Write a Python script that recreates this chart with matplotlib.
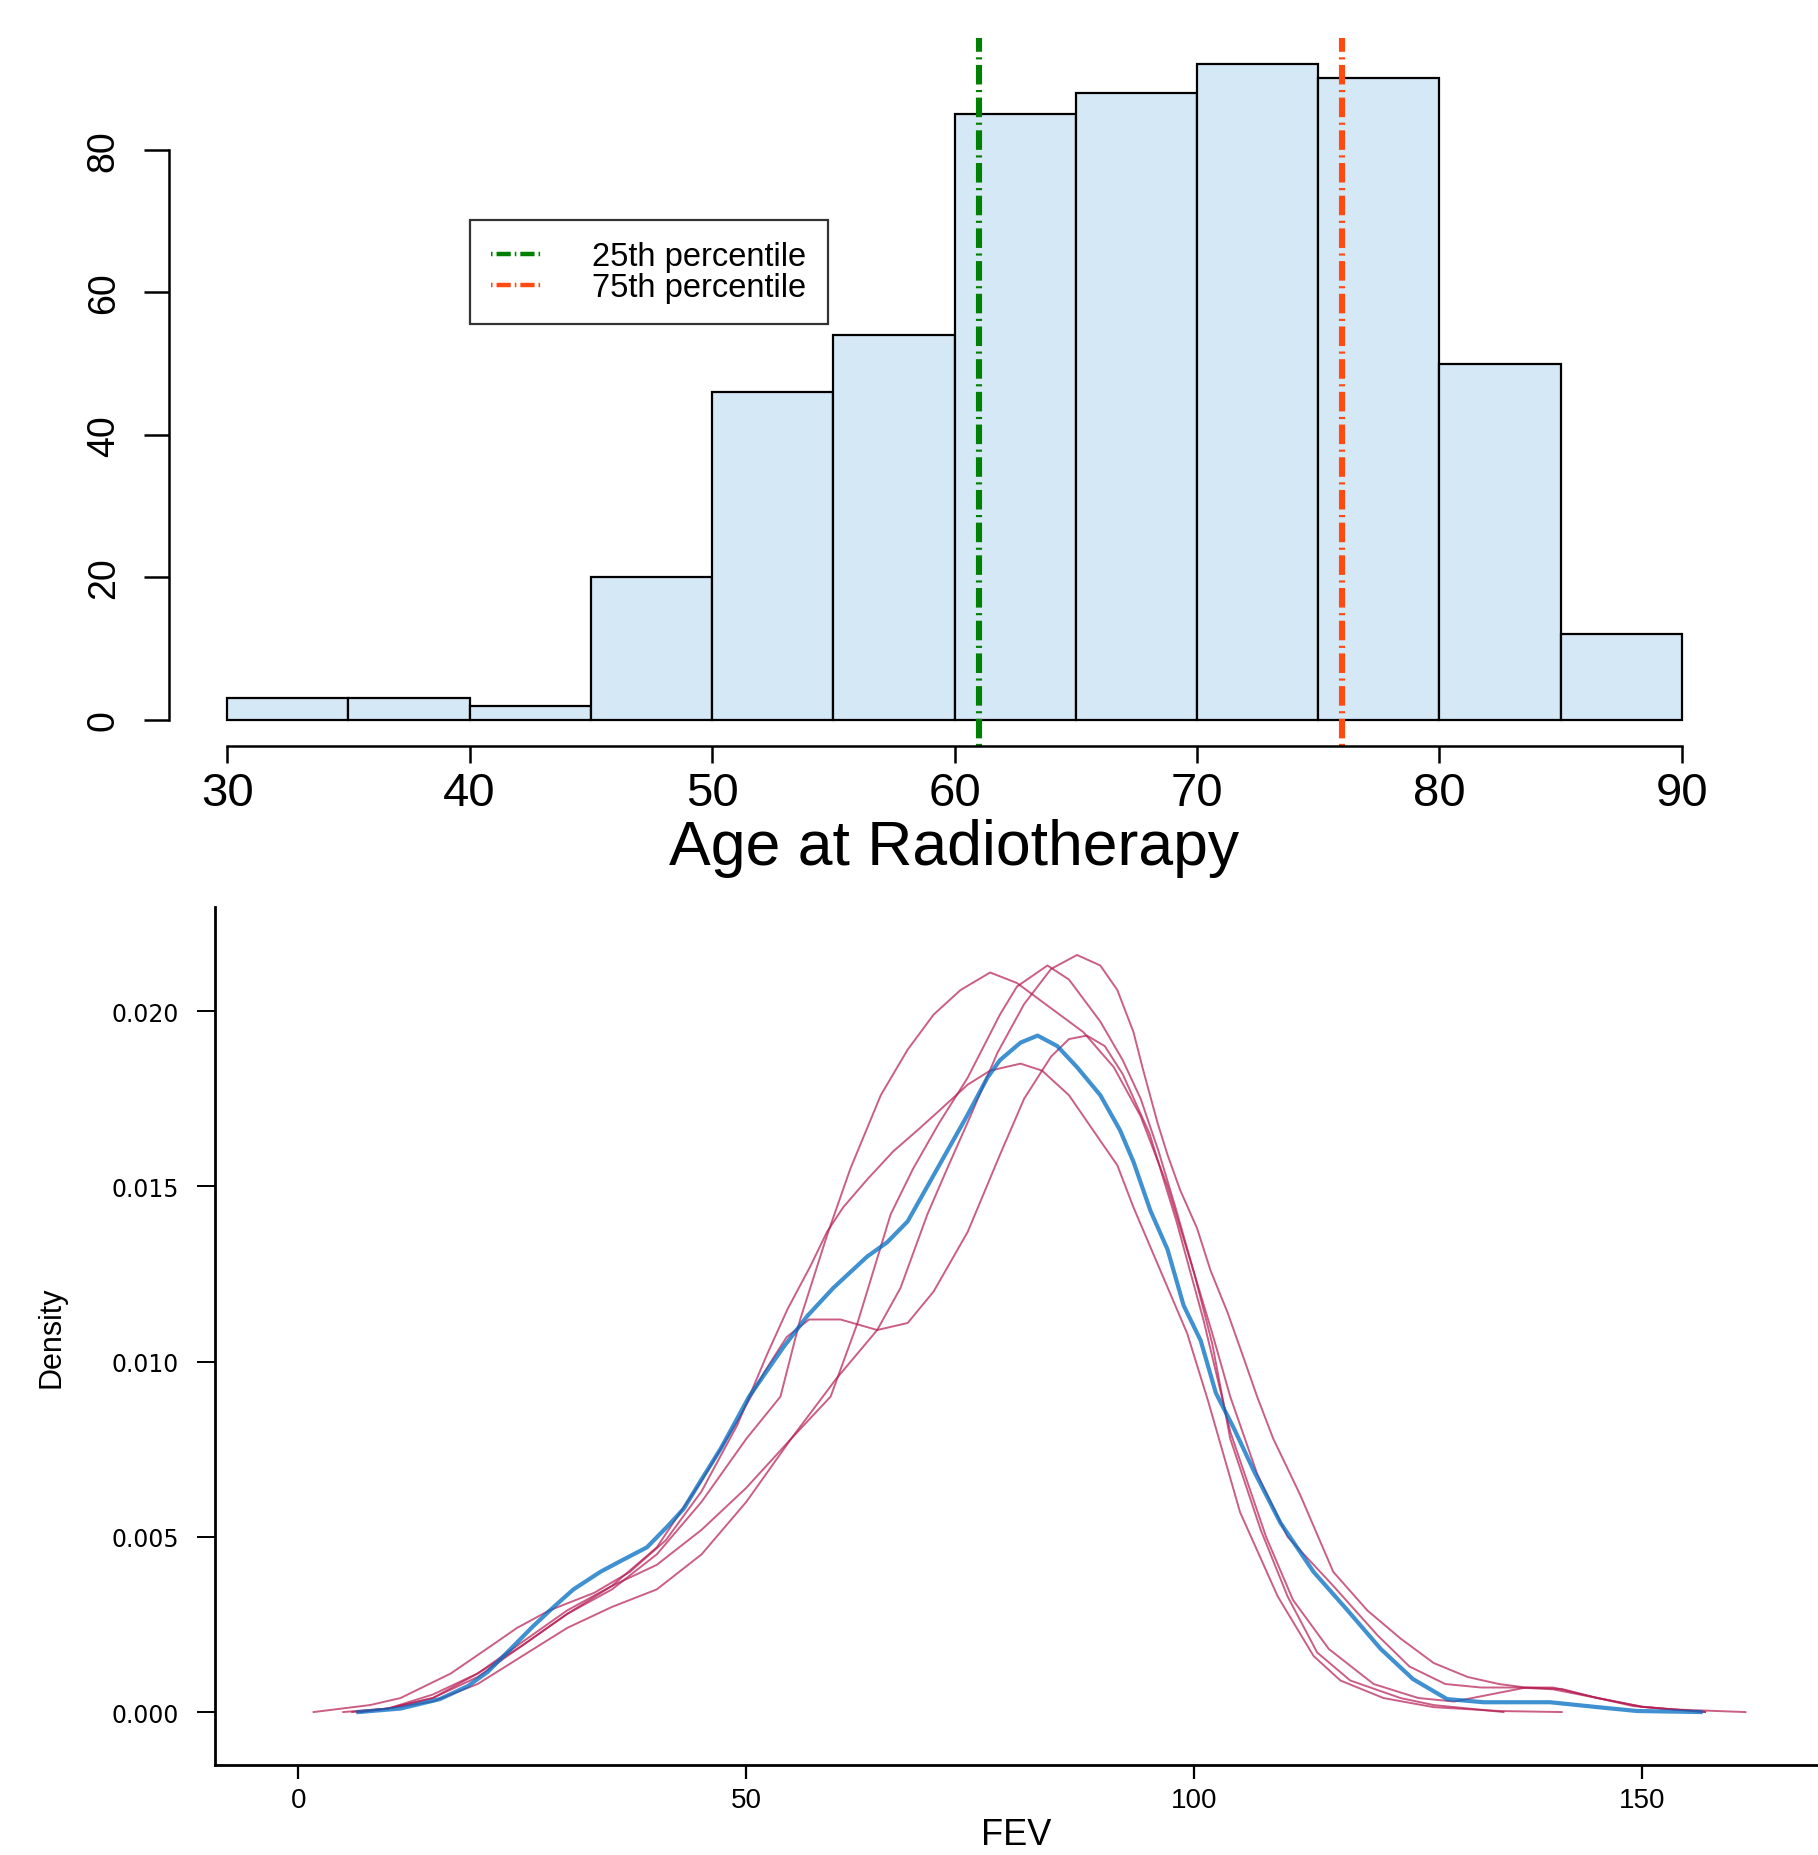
import numpy as np
import matplotlib
matplotlib.use("Agg")
import matplotlib.pyplot as plt
from matplotlib.lines import Line2D
from matplotlib import font_manager

# ---- histogram data (age at radiotherapy) ----
bin_edges = [30, 35, 40, 45, 50, 55, 60, 65, 70, 75, 80, 85, 90]
counts = [3, 3, 2, 20, 46, 54, 85, 88, 92, 90, 50, 12]
p25 = 61
p75 = 76
age_ticks = [30, 40, 50, 60, 70, 80, 90]
count_ticks = [0, 20, 40, 60, 80]

# ---- density curves (FEV): observed (blue) and imputed (red) ----
obs_x = [6.7, 11.4, 15.8, 18.9, 21.1, 23.3, 26.2, 28.5, 30.7, 33.7,
         35.9, 38.9, 41.2, 43.0, 44.9, 47.1, 48.6, 50.3, 54.1, 56.8,
         59.7, 63.5, 65.7, 68.0, 70.2, 72.4, 74.6, 76.9, 78.3, 80.6,
         82.5, 84.7, 86.9, 89.5, 91.7, 93.2, 95.1, 97.0, 98.8, 100.7,
         102.4, 104.4, 106.6, 109.6, 113.3, 117.1, 120.8, 124.4, 128.2, 132.3,
         139.7, 145.0, 149.4, 156.5]
obs_y = [0, .0001, .00037, .00074, .00114, .0017, .00245, .0030, .0035, .0040,
         .0043, .0047, .0053, .0058, .0066, .0075, .0082, .0090, .0104, .0113,
         .0121, .0130, .0134, .0140, .0150, .0160, .0170, .0181, .0186, .0191,
         .0193, .0190, .0184, .0176, .0166, .0157, .0143, .0132, .0116, .0106,
         .0091, .0081, .0069, .0054, .0040, .0029, .0018, .00094, .00037, .00028,
         .00028, .00014, .00003, 0]

imp1_x = [6.0, 10, 15, 20, 25, 30, 35, 40, 45, 50,
          53.8, 56.0, 59.0, 61.6, 65.0, 68.0, 70.9, 73.9, 77.2, 80.2,
          83.9, 87.6, 91.0, 94.0, 97.0, 100.0, 102.0, 104.0, 107.4, 110.4,
          113.7, 117.4, 123.0, 126.7, 134.5]
imp1_y = [0, .0001, .0004, .0010, .0019, .0028, .0035, .0045, .0060, .0078,
          .0090, .0112, .0136, .0155, .0176, .0189, .0199, .0206, .0211, .0208,
          .0201, .0194, .0184, .0170, .0150, .0125, .0105, .0078, .0052, .0033,
          .0017, .0009, .0004, .0002, 0]

imp2_x = [6.5, 10, 15, 20, 25, 30, 35, 40, 45, 50,
          55, 59.4, 62.4, 66.1, 68.6, 71.5, 74.7, 76.9, 78.3, 80.2,
          83.6, 86, 89.5, 92, 94, 96, 98, 100, 102, 104,
          107, 110.4, 115.5, 120.4, 124, 128, 132, 136, 140, 145,
          150, 157]
imp2_y = [0, .0001, .0004, .0011, .0020, .0029, .0036, .0042, .0052, .0064,
          .0078, .0090, .0111, .0142, .0155, .0168, .0181, .0192, .0199, .0207,
          .0213, .0209, .0197, .0186, .0175, .0160, .0143, .0125, .0108, .0090,
          .0068, .0050, .0036, .0022, .0013, .0008, .0007, .0007, .00065, .0004,
          .00015, 0]

imp3_x = [7, 10, 15, 20, 25, 30, 35, 40, 45, 50,
          55, 60, 64.6, 67.2, 70.2, 72.4, 75, 78, 81, 84,
          86.9, 89.5, 91.4, 93.2, 94.3, 95.9, 97, 98.4, 100.3, 101.8,
          103.7, 105.5, 107, 108.8, 111.8, 115.5, 119.3, 123, 126.7, 130.5,
          134, 137, 141, 144.5, 149, 153, 161.5]
imp3_y = [0, .0001, .0003, .0008, .0016, .0024, .0030, .0035, .0045, .0060,
          .0078, .0095, .0109, .0121, .0142, .0155, .0170, .0188, .0202, .0212,
          .0216, .0213, .0206, .0194, .0183, .0168, .0159, .0149, .0138, .0126,
          .0114, .0101, .0090, .0078, .0062, .0040, .0029, .0021, .0014, .0010,
          .0008, .0007, .00066, .00043, .00017, .00008, 0]

imp4_x = [5, 10, 15, 20, 25, 30, 35, 40, 45, 49,
          52, 54.5, 57, 60.5, 64.6, 68, 70.9, 74.7, 78.3, 81,
          84, 86, 88, 90, 92, 95, 98, 101, 104, 106,
          108, 111, 115, 120, 125, 129, 133, 137, 140, 145,
          150, 157]
imp4_y = [0, .0001, .0005, .0011, .0019, .0028, .0036, .0047, .0066, .0083,
          .0097, .0107, .0112, .0112, .0109, .0111, .0120, .0137, .0159, .0175,
          .0187, .0192, .0193, .0190, .0182, .0165, .0140, .0112, .0080, .0065,
          .0050, .0032, .0018, .0008, .0004, .0003, .0005, .0007, .0007, .0004,
          .00015, 0]

imp5_x = [1.7, 8, 11.4, 17, 21, 24.4, 28, 33, 37, 41,
          45, 49, 52.3, 54.6, 57.1, 59, 60.8, 63.5, 66.4, 69.1,
          71.7, 74.7, 77.2, 80.6, 83, 86, 89.5, 91.4, 93.2, 96.2,
          99.2, 101.5, 105.1, 109.3, 113.3, 116.3, 121.1, 126.7, 134, 141]
imp5_y = [0, .0002, .0004, .0011, .0018, .0024, .0029, .0034, .0040, .0049,
          .0063, .0082, .0102, .0115, .0127, .0137, .0144, .0152, .0160, .0166,
          .0172, .0179, .0183, .0185, .0183, .0176, .0163, .0156, .0144, .0126,
          .0108, .0089, .0057, .0033, .0016, .0009, .0004, .00014, .00003, 0]

fev_ticks = [0, 50, 100, 150]
dens_ticks = [0.000, 0.005, 0.010, 0.015, 0.020]

names = {f.name for f in font_manager.fontManager.ttflist}
narrow = "Liberation Sans Narrow" if "Liberation Sans Narrow" in names else "Liberation Sans"
plt.rcParams["font.family"] = ["Liberation Sans", "DejaVu Sans"]

fig = plt.figure(figsize=(18.18, 18.56), dpi=100)

# ---------------- top: histogram ----------------
ax1 = fig.add_axes([0.0930, 0.5975, 0.8641, 0.3815])
lefts = bin_edges[:-1]
widths = np.diff(bin_edges)
ax1.bar(lefts, counts, width=widths, align="edge", color="#D5E8F5",
        edgecolor="black", linewidth=1.6)
pat = (0.35, 0.9, 3.2, 0.9)
ax1.axvline(p25, color="#008000", linewidth=4.4, dashes=pat)
ax1.axvline(p75, color="#FF4A12", linewidth=4.4, dashes=pat)
ax1.set_xlim(27.6, 92.4)
ax1.set_ylim(-3.68, 95.68)
for s in ["top", "right"]:
    ax1.spines[s].set_visible(False)
ax1.spines["left"].set_bounds(0, 80)
ax1.spines["bottom"].set_bounds(30, 90)
ax1.spines["left"].set_linewidth(1.8)
ax1.spines["bottom"].set_linewidth(1.8)
ax1.set_xticks(age_ticks)
ax1.set_yticks(count_ticks)
ax1.tick_params(axis="x", length=12, width=1.8, pad=6, labelsize=34)
ax1.tick_params(axis="y", length=18, width=1.8, pad=16, labelsize=27,
                labelrotation=90)
for lab in ax1.get_yticklabels():
    lab.set_va("center")
ax1.set_xlabel("Age at Radiotherapy", fontsize=45, labelpad=2)

handles = [Line2D([], [], color="#008000", linewidth=3.2, dashes=pat),
           Line2D([], [], color="#FF4A12", linewidth=3.2, dashes=pat)]
leg = ax1.legend(handles, ["25th percentile", "75th percentile"],
                 loc="upper left", bbox_to_anchor=(0.1916, 0.743),
                 borderaxespad=0, fontsize=23.5, frameon=True, fancybox=False,
                 edgecolor="black", handlelength=1.6, handletextpad=1.5,
                 labelspacing=0.0, borderpad=0.65)
leg.get_frame().set_linewidth(1.6)

# ---------------- bottom: density plot ----------------
ax2 = fig.add_axes([0.1183, 0.0485, 0.8817, 0.4623])
red = "#B61A51"
blue = "#006CC2"
for xs, ys in [(imp1_x, imp1_y), (imp2_x, imp2_y), (imp3_x, imp3_y),
               (imp4_x, imp4_y), (imp5_x, imp5_y)]:
    ax2.plot(xs, ys, color=red, alpha=0.7, linewidth=1.4)
ax2.plot(obs_x, obs_y, color=blue, alpha=0.75, linewidth=3.0)
ax2.set_xlim(-9.3, 169.6)
ax2.set_ylim(-0.00151, 0.02297)
for s in ["top", "right"]:
    ax2.spines[s].set_visible(False)
ax2.spines["left"].set_linewidth(2.0)
ax2.spines["bottom"].set_linewidth(2.0)
ax2.set_xticks(fev_ticks)
ax2.set_xticklabels([str(t) for t in fev_ticks], family=narrow, fontsize=20)
ax2.set_yticks(dens_ticks)
ax2.set_yticklabels(["%.3f" % t for t in dens_ticks], family="DejaVu Sans",
                    fontsize=17)
ax2.tick_params(axis="x", length=10, width=1.6, pad=6)
ax2.tick_params(axis="y", length=13, width=1.4, pad=13)
ax2.set_ylabel("Density", family=narrow, fontsize=22, labelpad=32)
ax2.set_xlabel("FEV", family=narrow, fontsize=26, labelpad=3)

fig.savefig("out.png", dpi=100)
